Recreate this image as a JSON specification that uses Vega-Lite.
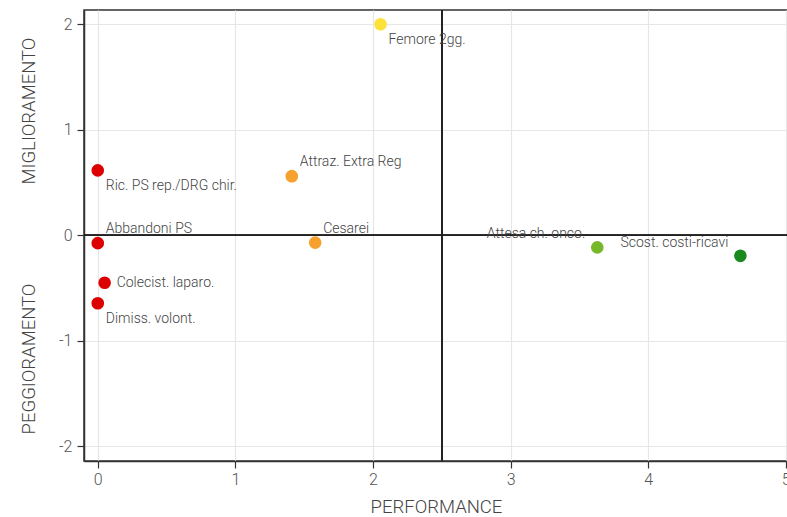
{
  "$schema": "https://vega.github.io/schema/vega-lite/v6.json",
  "autosize": {"type": "none"},
  "padding": {"left": 84, "top": 10, "right": 0, "bottom": 56},
  "width": 704,
  "height": 451,
  "background": "white",
  "config": {
    "font": "Roboto",
    "view": {"stroke": "#333", "strokeWidth": 1.5},
    "axis": {
      "domainColor": "#333", "domainWidth": 1.5,
      "tickColor": "#333", "tickSize": 7, "tickWidth": 1.2,
      "gridColor": "#e6e6e6", "gridWidth": 1.2,
      "labelFont": "Roboto", "labelFontSize": 16, "labelColor": "#555", "labelFontWeight": 300,
      "titleFont": "Roboto", "titleFontSize": 18.5, "titleColor": "#444", "titleFontWeight": 300
    }
  },
  "data": {
    "values": [
      {"indicatore": "Femore 2gg.", "performance": 2.055, "miglioramento": 2.0, "valutazione": "media"},
      {"indicatore": "Attraz. Extra Reg", "performance": 1.41, "miglioramento": 0.56, "valutazione": "bassa"},
      {"indicatore": "Cesarei", "performance": 1.58, "miglioramento": -0.07, "valutazione": "bassa"},
      {"indicatore": "Ric. PS rep./DRG chir.", "performance": 0.0, "miglioramento": 0.615, "valutazione": "molto bassa"},
      {"indicatore": "Abbandoni PS", "performance": 0.0, "miglioramento": -0.075, "valutazione": "molto bassa"},
      {"indicatore": "Colecist. laparo.", "performance": 0.05, "miglioramento": -0.45, "valutazione": "molto bassa"},
      {"indicatore": "Dimiss. volont.", "performance": 0.0, "miglioramento": -0.645, "valutazione": "molto bassa"},
      {"indicatore": "Attesa ch. onco.", "performance": 3.63, "miglioramento": -0.115, "valutazione": "alta"},
      {"indicatore": "Scost. costi-ricavi", "performance": 4.67, "miglioramento": -0.195, "valutazione": "molto alta"}
    ]
  },
  "encoding": {
    "x": {
      "field": "performance", "type": "quantitative",
      "scale": {"domain": [-0.1, 5.016], "nice": false, "zero": false},
      "axis": {"values": [0, 1, 2, 3, 4, 5], "title": "PERFORMANCE", "labelPadding": 3, "titlePadding": 10}
    },
    "y": {
      "field": "miglioramento", "type": "quantitative",
      "scale": {"domain": [-2.14, 2.135], "nice": false, "zero": false},
      "axis": {
        "values": [-2, -1, 0, 1, 2],
        "labelExpr": "'' + datum.value",
        "title": "PEGGIORAMENTO\u00a0\u00a0\u00a0\u00a0\u00a0\u00a0\u00a0\u00a0\u00a0\u00a0\u00a0\u00a0\u00a0\u00a0\u00a0\u00a0\u00a0\u00a0\u00a0\u00a0\u00a0\u00a0MIGLIORAMENTO",
        "labelPadding": 5, "titlePadding": 20
      }
    }
  },
  "layer": [
    {
      "mark": {"type": "rule", "color": "#222", "strokeWidth": 1.2},
      "encoding": {"x": {"datum": 2.5, "type": "quantitative"}, "y": null}
    },
    {
      "mark": {"type": "rule", "color": "#222", "strokeWidth": 1.2},
      "encoding": {"y": {"datum": 0, "type": "quantitative"}, "x": null}
    },
    {
      "mark": {"type": "circle", "size": 160, "opacity": 1},
      "encoding": {
        "color": {
          "field": "valutazione", "type": "nominal", "legend": null,
          "scale": {
            "domain": ["molto bassa", "bassa", "media", "alta", "molto alta"],
            "range": ["#dd0000", "#f6a02d", "#fde23b", "#77b82b", "#1b8a1e"]
          }
        }
      }
    },
    {
      "transform": [{"filter": {"field": "indicatore", "oneOf": ["Femore 2gg.", "Ric. PS rep./DRG chir.", "Dimiss. volont."]}}],
      "mark": {"type": "text", "align": "left", "baseline": "middle", "dx": 8, "dy": 16, "fontSize": 14, "fontWeight": 300, "color": "#444"},
      "encoding": {"text": {"field": "indicatore"}}
    },
    {
      "transform": [{"filter": {"field": "indicatore", "oneOf": ["Attraz. Extra Reg", "Cesarei", "Abbandoni PS"]}}],
      "mark": {"type": "text", "align": "left", "baseline": "middle", "dx": 8, "dy": -14, "fontSize": 14, "fontWeight": 300, "color": "#444"},
      "encoding": {"text": {"field": "indicatore"}}
    },
    {
      "transform": [{"filter": {"field": "indicatore", "oneOf": ["Colecist. laparo."]}}],
      "mark": {"type": "text", "align": "left", "baseline": "middle", "dx": 12, "dy": 0, "fontSize": 14, "fontWeight": 300, "color": "#444"},
      "encoding": {"text": {"field": "indicatore"}}
    },
    {
      "transform": [{"filter": {"field": "indicatore", "oneOf": ["Attesa ch. onco.", "Scost. costi-ricavi"]}}],
      "mark": {"type": "text", "align": "right", "baseline": "middle", "dx": -12, "dy": -13, "fontSize": 14, "fontWeight": 300, "color": "#444"},
      "encoding": {"text": {"field": "indicatore"}}
    }
  ]
}
